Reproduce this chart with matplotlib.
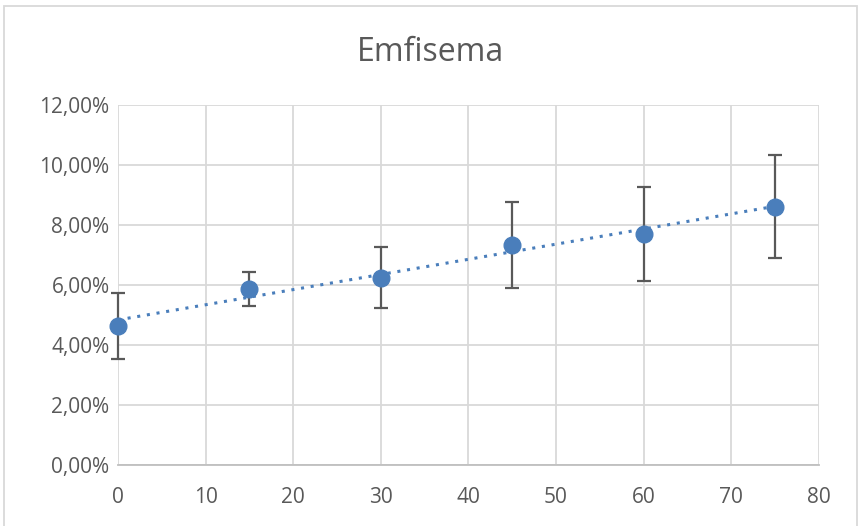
import numpy as np
import matplotlib
matplotlib.use('Agg')
import matplotlib.pyplot as plt
from matplotlib.ticker import FuncFormatter, MultipleLocator

# data (values in %)
dose = [0, 15, 30, 45, 60, 75]
emfisema = [4.63, 5.86, 6.24, 7.33, 7.70, 8.61]
err = [1.10, 0.56, 1.01, 1.42, 1.58, 1.72]

TEXT = '#595959'
BLUE = '#4a7ebb'
GRID = '#d9d9d9'

plt.rcParams['font.family'] = ['Open Sans', 'DejaVu Sans']

fig = plt.figure(figsize=(8.61, 5.26), dpi=100)
ax = fig.add_axes([0.137, 0.116, 0.814, 0.6845])

# linear trendline (dotted)
slope, intercept = np.polyfit(dose, emfisema, 1)
tx = np.array([min(dose), max(dose)])
ax.plot(tx, slope * tx + intercept, linestyle=(0, (1, 2.2)), color=BLUE,
        linewidth=2.2, zorder=3, clip_on=False)

ax.errorbar(dose, emfisema, yerr=err, fmt='none', ecolor='#595959',
            elinewidth=1.6, capsize=5, capthick=1.6, zorder=4, clip_on=False)
ax.plot(dose, emfisema, 'o', color=BLUE, markersize=12, zorder=5, clip_on=False)

ax.set_xlim(0, 80)
ax.set_ylim(0, 12)
ax.xaxis.set_major_locator(MultipleLocator(10))
ax.yaxis.set_major_locator(MultipleLocator(2))
ax.yaxis.set_major_formatter(FuncFormatter(lambda v, p: f'{v:.2f}%'.replace('.', ',')))

ax.grid(True, color=GRID, linewidth=1.3)
ax.set_axisbelow(True)
for s in ['top', 'right', 'left']:
    ax.spines[s].set_visible(False)
ax.spines['bottom'].set_color('#bfbfbf')
ax.spines['bottom'].set_linewidth(1.3)
ax.tick_params(length=0, labelsize=15, colors=TEXT)
ax.tick_params(axis='x', pad=16)
ax.tick_params(axis='y', pad=6)

fig.text(0.5, 0.9, 'Emfisema', ha='center', va='center', fontsize=23, color=TEXT)

# chart border
fig.patches.append(plt.Rectangle((0.005, -0.01), 0.99, 0.998, transform=fig.transFigure,
                                 fill=False, edgecolor='#d9d9d9', linewidth=1.3))

fig.savefig('out.png', dpi=100)
